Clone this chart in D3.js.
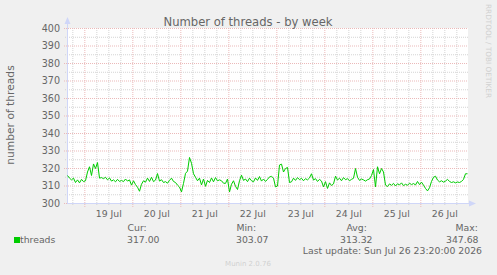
<!DOCTYPE html>
<html><head><meta charset="utf-8">
<script src="https://cdn.jsdelivr.net/npm/d3@7/dist/d3.min.js"></script>
<style>
html,body{margin:0;padding:0;background:#f0f0f0;}
svg{display:block;font-family:"DejaVu Sans",sans-serif;}
</style></head>
<body>
<script>
const title = "Number of threads - by week";
const yLabel = "number of threads";
const startTime = new Date(2026, 6, 18, 15, 20, 0);
const endTime = new Date(2026, 6, 26, 23, 20, 0);
const stepHours = 1;
const threads = [
316,314.5,313.5,314.5,312,313.5,311.8,313.8,312.5,313,
318,321,316,322.6,320,323.4,314.5,314.8,314.2,315,
313.5,314.6,312.8,313.5,312.4,313.8,312.6,313.2,312.5,314,
312.8,313.5,310.5,313,310.8,309.3,307,311,313,312.2,
314.5,312.6,315,312.5,313.4,317.1,312.8,313.6,312,312.5,
311.6,313.2,314.5,312.6,312,310.5,309.4,306.6,311.5,317.2,
318.5,326.3,323,317,315,313,314.5,310.6,314,309.8,
313.2,312,314.6,312.4,314.8,313,313.5,313,311.6,311.5,
314,306.6,311,313,309.8,308,313,316.2,313.2,314,
312.5,314.5,313,312.4,314.6,313.2,315.4,312.8,314,312.6,
313.8,315.2,315.5,314.5,309.5,310,322,322.5,318,320,
320.6,312,312.4,314.5,313.2,314.8,313.6,314.4,313,314.2,
313.5,314.6,317,313.4,314.2,312.6,313.8,312.8,309.5,312.5,
308.6,311.8,310.3,311.2,315.6,313.4,314.5,313,314.8,313.6,
314.2,313,313.8,314.4,320,315,313.2,314,313.5,312.8,
313.6,314,316,319.4,309.5,321,317,320,318,310.5,
309.7,311.2,310.4,311.5,310,311.3,310.6,311.8,310.2,311,
310.4,311.6,310.8,311.4,310.6,312.6,310.8,312.2,310.5,308.6,
307.2,309,312.6,315,315.6,313.4,312.4,313,312.2,312.8,
313.8,312.6,312,312.4,311.8,312.3,312,312.6,313.8,317,
317
];
const yTicks = [300,310,320,330,340,350,360,370,380,390,400];
const legendHeaders = ["Cur:", "Min:", "Avg:", "Max:"];
const legendValues = ["317.00", "303.07", "313.32", "347.68"];
const seriesName = "threads";
const lastUpdate = "Last update: Sun Jul 26 23:20:00 2026";
const watermark = "RRDTOOL / TOBI OETIKER";
const footer = "Munin 2.0.76";

const W = 497, H = 275;
const svg = d3.select("body").append("svg").attr("width", W).attr("height", H);
svg.append("rect").attr("width", W).attr("height", H).attr("fill", "#f0f0f0");

const x = d3.scaleTime().domain([startTime, endTime]).range([67.5, 467.5]);
const y = d3.scaleLinear().domain([300, 400]).range([203.5, 28.5]);

const fontColor = "#666666";
const axisColor = "#CFD6F8";
const minorColor = "#d4d4d4";
const majorColor = "#ebb9b9";

svg.append("rect").attr("x", 67).attr("y", 28).attr("width", 401).attr("height", 176).attr("fill", "#ffffff");

const gGrid = svg.append("g");
d3.range(300, 401, 5).filter(v => v % 10 !== 0).forEach(v => {
  gGrid.append("line").attr("x1", 65).attr("x2", 468).attr("y1", y(v)).attr("y2", y(v))
    .attr("stroke", minorColor).attr("stroke-dasharray", "1,1");
});
d3.timeHour.every(6).range(startTime, endTime).filter(d => d.getHours() !== 0).forEach(d => {
  gGrid.append("line").attr("x1", x(d)).attr("x2", x(d)).attr("y1", 28).attr("y2", 206)
    .attr("stroke", minorColor).attr("stroke-dasharray", "1,1");
});
yTicks.forEach(v => {
  gGrid.append("line").attr("x1", 64).attr("x2", 468).attr("y1", y(v)).attr("y2", y(v))
    .attr("stroke", majorColor).attr("stroke-dasharray", "1,1");
});
const days = d3.timeDay.range(d3.timeDay.ceil(startTime), endTime);
days.forEach(d => {
  gGrid.append("line").attr("x1", x(d)).attr("x2", x(d)).attr("y1", 28).attr("y2", 207)
    .attr("stroke", majorColor).attr("stroke-dasharray", "1,1");
});

svg.append("line").attr("x1", 67.5).attr("x2", 67.5).attr("y1", 204).attr("y2", 22).attr("stroke", axisColor);
svg.append("path").attr("d", "M64.5,24 L70.5,24 L67.5,17 Z").attr("fill", axisColor);
svg.append("line").attr("x1", 67).attr("x2", 471).attr("y1", 203.5).attr("y2", 203.5).attr("stroke", axisColor);
svg.append("path").attr("d", "M469,200.5 L469,206.5 L476,203.5 Z").attr("fill", axisColor);

svg.append("g").selectAll("text").data(yTicks).join("text")
  .attr("x", 60).attr("y", d => y(d) + 3.3).attr("text-anchor", "end")
  .attr("font-size", "9.6px").attr("fill", fontColor).text(d => d);

const noons = days.map(d => d3.timeHour.offset(d, 12)).filter(d => d < endTime);
svg.append("g").selectAll("text").data(noons).join("text")
  .attr("x", d => x(d)).attr("y", 216.5).attr("text-anchor", "middle")
  .attr("font-size", "9.3px").attr("fill", fontColor).text(d3.timeFormat("%-d %b"));

const line = d3.line()
  .x((d, i) => x(d3.timeHour.offset(startTime, i * stepHours)))
  .y(d => y(d));
svg.append("path").datum(threads).attr("d", line).attr("fill", "none")
  .attr("stroke", "#00cc00").attr("stroke-width", 1);

svg.append("text").attr("x", 248).attr("y", 26).attr("text-anchor", "middle")
  .attr("font-size", "11.6px").attr("fill", fontColor).text(title);

svg.append("text").attr("transform", "translate(14,115) rotate(-90)").attr("text-anchor", "middle")
  .attr("font-size", "10.7px").attr("fill", fontColor).text(yLabel);

svg.append("text").attr("transform", "translate(486,51) rotate(90)").attr("text-anchor", "middle")
  .attr("font-size", "7.3px").attr("fill", "#d0d0d0").text(watermark);

svg.append("rect").attr("x", 14).attr("y", 237).attr("width", 6).attr("height", 6).attr("fill", "#00cc00");
svg.append("text").attr("x", 20).attr("y", 242.5).attr("font-size", "9.3px").attr("fill", fontColor).text(seriesName);
const headerX = [128, 237, 347, 456];
const valueX = [128, 237, 341, 447];
legendHeaders.forEach((h, i) => {
  svg.append("text").attr("x", headerX[i] - 0.5).attr("y", 230.5).attr("font-size", "9.3px").attr("fill", fontColor).text(h);
  svg.append("text").attr("x", valueX[i] - 1).attr("y", 242.5).attr("font-size", "9.3px").attr("fill", fontColor).text(legendValues[i]);
});
svg.append("text").attr("x", 482).attr("y", 254.3).attr("text-anchor", "end").attr("font-size", "9.3px").attr("fill", fontColor).text(lastUpdate);

svg.append("text").attr("x", 248).attr("y", 265.5).attr("text-anchor", "middle")
  .attr("font-size", "7px").attr("fill", "#d0d0d0").text(footer);
</script>
</body></html>
